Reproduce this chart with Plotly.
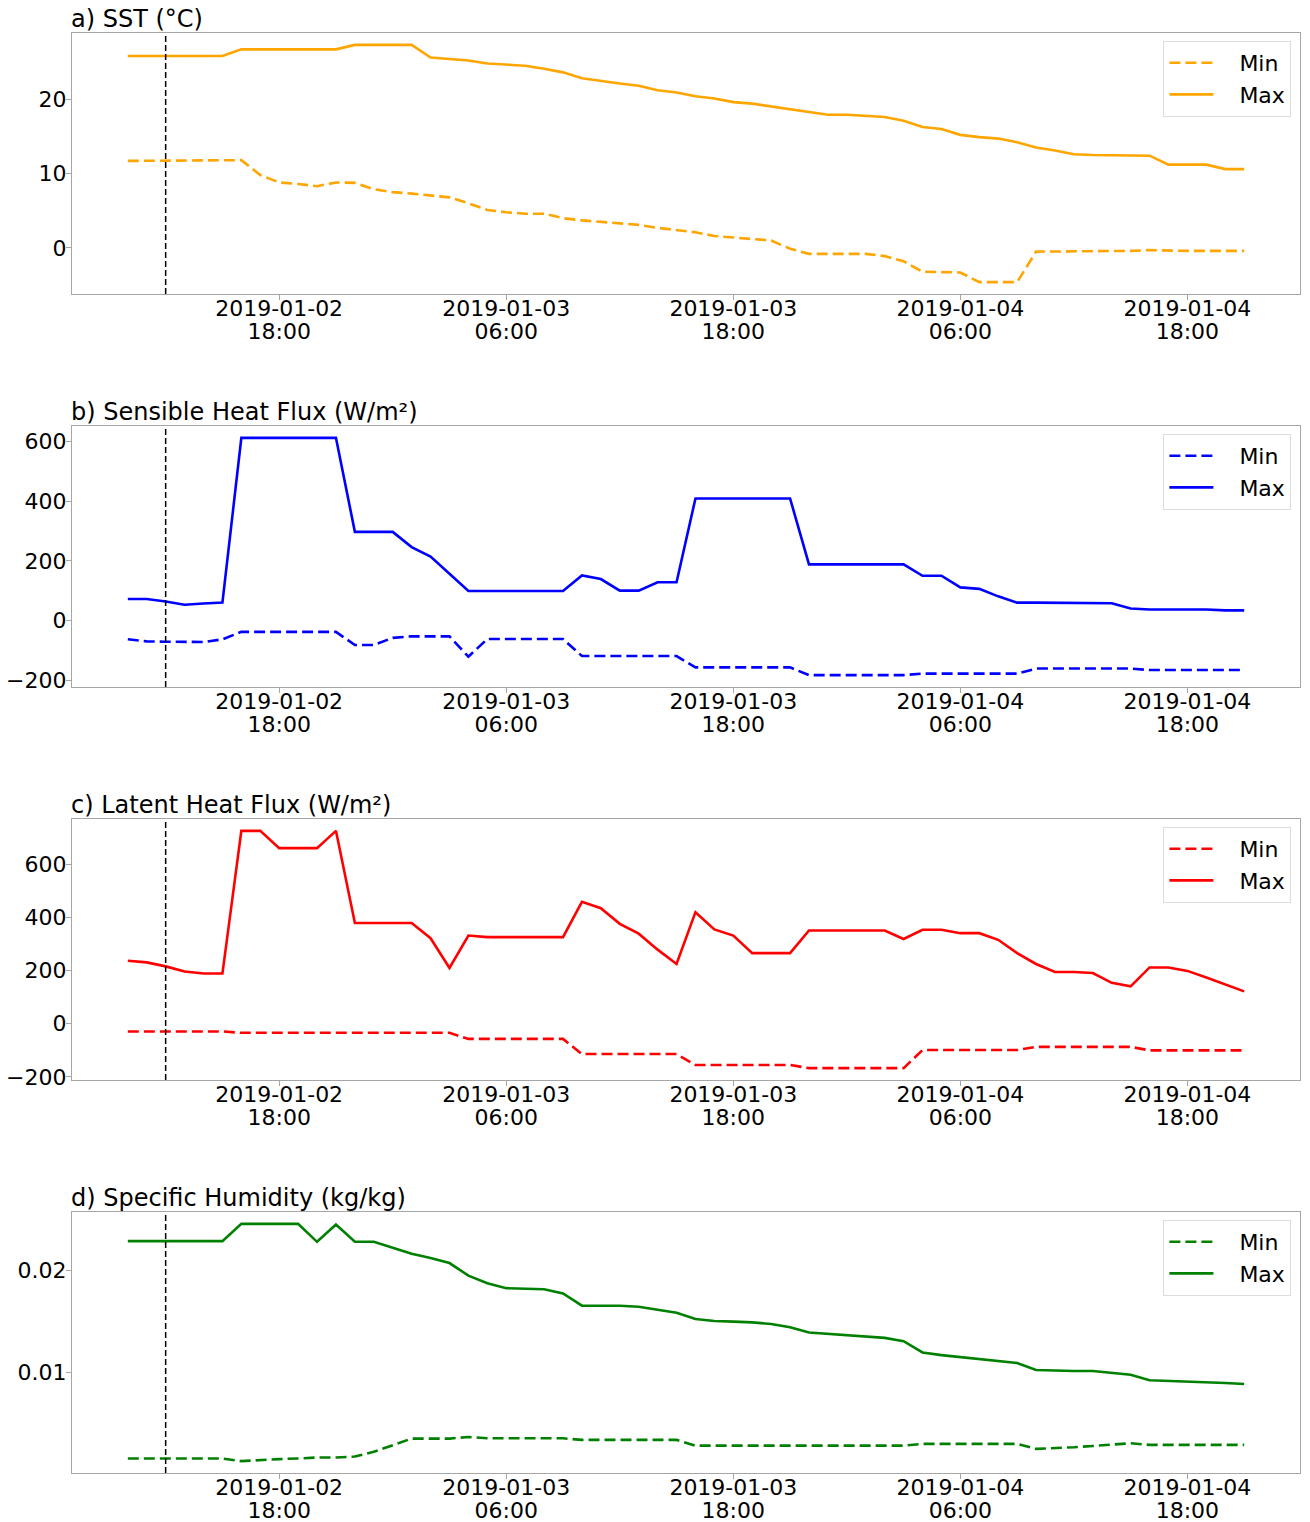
import pandas as pd
import plotly.graph_objects as go

# Hourly series, 2019-01-02 10:00 to 2019-01-04 21:00
start_time = "2019-01-02 10:00"
n_hours = 60
event_time = "2019-01-02 12:00"

sst_min = [11.7] * 6 + [11.8, 9.8, 8.8, 8.6, 8.3, 8.8, 8.75, 7.9, 7.5, 7.3,
           7.1, 6.8, 6.0, 5.1, 4.8, 4.6, 4.6, 4.0, 3.7, 3.5,
           3.3, 3.1, 2.7, 2.4, 2.1, 1.6, 1.4, 1.3, 1.0, -0.1,
           -0.8, -0.8, -0.8, -0.8, -1.1, -1.8, -3.2, -3.3, -3.3, -4.6,
           -4.6, -4.6, -0.5, -0.5, -0.5, -0.4, -0.4, -0.4, -0.3, -0.4,
           -0.4, -0.4, -0.4, -0.4]
sst_max = [25.8] * 6 + [26.7] * 6 + [27.3] * 4 + [
    25.6, 25.4, 25.2, 24.8, 24.6, 24.5, 24.1, 23.6, 22.8, 22.4,
    22.1, 21.8, 21.2, 20.9, 20.4, 20.1, 19.6, 19.4, 19.0, 18.7,
    18.3, 17.9, 17.9, 17.8, 17.6, 17.1, 16.25, 16.0, 15.2, 14.9,
    14.7, 14.2, 13.5, 13.1, 12.6, 12.5, 12.5, 12.5, 12.4, 11.2,
    11.2, 11.2, 10.6, 10.6]

shf_min = [-63, -70, -71, -72, -72, -63] + [-38] * 6 + [-82, -82, -58, -53, -53, -53, -121] \
    + [-62] * 5 + [-119] * 6 + [-157] * 6 + [-183] * 6 + [-178] * 6 + [-161] * 6 + [-166] * 6
shf_max = [72, 72, 64, 53, 57, 60] + [612] * 6 + [297, 297, 297, 246, 214, 157] + [99] * 6 \
    + [151, 139, 100, 100, 128, 128] + [409] * 6 + [188] * 6 \
    + [150, 150, 111, 106, 81] + [60] * 5 + [58, 40] + [37] * 4 + [34, 34]

lhf_min = [-29] * 6 + [-34] * 12 + [-57] * 6 + [-114] * 6 + [-155] * 6 + [-167] * 6 \
    + [-99] * 6 + [-87] * 6 + [-100] * 6
lhf_max = [237, 231, 216, 197, 189, 189, 726, 726, 661, 661, 661, 726] + [379] * 4 \
    + [322, 210, 332] + [326] * 5 + [459, 435, 376, 339, 279, 225] \
    + [420, 355, 332, 266, 266, 266] + [351] * 5 \
    + [319, 354, 354, 341, 341, 316, 266] + [225, 195, 195, 191, 154, 141] \
    + [212, 212, 199, 174, 149, 122]

q_min = [0.00156] * 6 + [0.0013, 0.00143, 0.0015, 0.00156, 0.00166, 0.00166, 0.00175,
                         0.00221, 0.00286, 0.00351, 0.00351, 0.00351, 0.00367] \
    + [0.00354] * 5 + [0.00338] * 6 + [0.00282] * 12 + [0.00299] * 6 \
    + [0.0025, 0.00256, 0.00266, 0.00279, 0.00292, 0.00305] + [0.00289] * 6
q_max = [0.02286] * 6 + [0.02455] * 4 + [
    0.02279, 0.02448, 0.02279, 0.02279, 0.02221, 0.02162, 0.0212, 0.02071, 0.01948, 0.01873,
    0.01825, 0.01818, 0.01815, 0.01773, 0.01653, 0.01653, 0.01653, 0.01643, 0.0161, 0.01584,
    0.01523, 0.01503, 0.01497, 0.0149, 0.01474, 0.01442, 0.0139, 0.01377, 0.0137, 0.01357,
    0.01338, 0.01305, 0.01195, 0.01169, 0.01149, 0.01127, 0.0111, 0.01091, 0.01023, 0.01016,
    0.01013, 0.01013, 0.00994, 0.00977, 0.00922, 0.00916, 0.00912, 0.00906, 0.00896, 0.00886]

panel_titles = ["a) SST (°C)", "b) Sensible Heat Flux (W/m²)",
                "c) Latent Heat Flux (W/m²)", "d) Specific Humidity (kg/kg)"]
panel_colors = ["orange", "blue", "red", "green"]
panel_ticks = [[0, 10, 20], [-200, 0, 200, 400, 600], [-200, 0, 200, 400, 600], [0.01, 0.02]]
panel_ticktext = [None, None, None, ["0.01", "0.02"]]
series = [(sst_min, sst_max), (shf_min, shf_max), (lhf_min, lhf_max), (q_min, q_max)]
legend_names = ["Min", "Max"]

x_tick_times = ["2019-01-02 18:00", "2019-01-03 06:00", "2019-01-03 18:00",
                "2019-01-04 06:00", "2019-01-04 18:00"]

times = pd.date_range(start_time, periods=n_hours, freq="h")
span = times[-1] - times[0]
x_range = [times[0] - 0.05 * span, times[-1] + 0.05 * span]
tick_vals = pd.to_datetime(x_tick_times)
date_text = [t.strftime("%Y-%m-%d") for t in tick_vals]
hour_text = [t.strftime("%H:%M") for t in tick_vals]

W, H = 1310, 1522
M_L, M_R, M_T, M_B = 72, 10, 33, 49
plot_h = H - M_T - M_B
panel_px = 261
step_px = 393

FONT = dict(family="DejaVu Sans", size=22, color="black")
TITLE_FONT = dict(family="DejaVu Sans", size=24, color="black")
FRAME = "#a6a6a6"
GAP = "\u00a0\u00a0\u00a0"  # spacing between legend line sample and label

fig = go.Figure()
layout = dict(width=W, height=H, margin=dict(l=M_L, r=M_R, t=M_T, b=M_B),
              paper_bgcolor="white", plot_bgcolor="white", font=FONT,
              shapes=[], annotations=[])

for i in range(4):
    top = 1 - (i * step_px) / plot_h
    bottom = top - panel_px / plot_h
    xa = "xaxis" if i == 0 else f"xaxis{i + 1}"
    ya = "yaxis" if i == 0 else f"yaxis{i + 1}"
    xref = "x" if i == 0 else f"x{i + 1}"
    yref = "y" if i == 0 else f"y{i + 1}"
    hour_ref = f"x{i + 5}"
    leg = "legend" if i == 0 else f"legend{i + 1}"
    lo, hi = series[i]
    color = panel_colors[i]

    fig.add_trace(go.Scatter(x=times, y=lo, mode="lines", name=GAP + legend_names[0],
                             line=dict(color=color, width=2.6, dash="11px,5px"),
                             xaxis=xref, yaxis=yref, legend=leg))
    fig.add_trace(go.Scatter(x=times, y=hi, mode="lines", name=GAP + legend_names[1],
                             line=dict(color=color, width=2.6),
                             xaxis=xref, yaxis=yref, legend=leg))
    # registers the companion axis that carries the hour line of the tick labels
    fig.add_trace(go.Scatter(x=[], y=[], mode="lines", showlegend=False,
                             hoverinfo="skip", xaxis=hour_ref, yaxis=yref))

    vmin = min(min(lo), min(hi))
    vmax = max(max(lo), max(hi))
    pad = 0.05 * (vmax - vmin)

    # date line of each tick label
    layout[xa] = dict(domain=[0, 1], anchor=yref, type="date", range=x_range,
                      tickmode="array", tickvals=tick_vals, ticktext=date_text,
                      showgrid=False, zeroline=False, showline=True, mirror=True,
                      linecolor=FRAME, linewidth=1.3, ticks="outside", ticklen=5,
                      tickcolor=FRAME, tickfont=FONT, automargin=False,
                      ticklabelstandoff=-11)
    # hour line of each tick label, on a companion axis with the same scale
    layout[f"xaxis{i + 5}"] = dict(overlaying=xref, anchor=yref, side="bottom",
                                   domain=[0, 1], type="date", range=x_range,
                                   tickmode="array", tickvals=tick_vals, ticktext=hour_text,
                                   showgrid=False, zeroline=False, showline=False,
                                   ticks="outside", ticklen=5, tickcolor="rgba(0,0,0,0)",
                                   tickfont=FONT, automargin=False,
                                   ticklabelstandoff=13)
    yax = dict(domain=[bottom, top], anchor=xref, range=[vmin - pad, vmax + pad],
               tickmode="array", tickvals=panel_ticks[i],
               showgrid=False, zeroline=False, showline=True, mirror=True,
               linecolor=FRAME, linewidth=1.3, ticks="outside", ticklen=5,
               tickcolor=FRAME, tickfont=FONT, automargin=False,
               ticklabelstandoff=-5)
    if panel_ticktext[i] is not None:
        yax["ticktext"] = panel_ticktext[i]
    layout[ya] = yax

    layout[leg] = dict(x=0.993, xanchor="right", y=top - 8 / plot_h, yanchor="top",
                       bgcolor="rgba(255,255,255,0.9)", bordercolor="#dcdcdc",
                       borderwidth=1, font=FONT, traceorder="normal",
                       itemwidth=44, tracegroupgap=0)

    layout["shapes"].append(dict(type="line", xref=xref, yref=f"{yref} domain",
                                 x0=pd.Timestamp(event_time), x1=pd.Timestamp(event_time),
                                 y0=0, y1=1, line=dict(color="black", width=1.5, dash="6px,3px")))
    layout["annotations"].append(dict(text=panel_titles[i], xref="paper", yref="paper",
                                      x=0, y=top, xanchor="left", yanchor="bottom",
                                      xshift=-3, yshift=-2, showarrow=False, font=TITLE_FONT))

fig.update_layout(**layout)
fig.write_html("out.html")
